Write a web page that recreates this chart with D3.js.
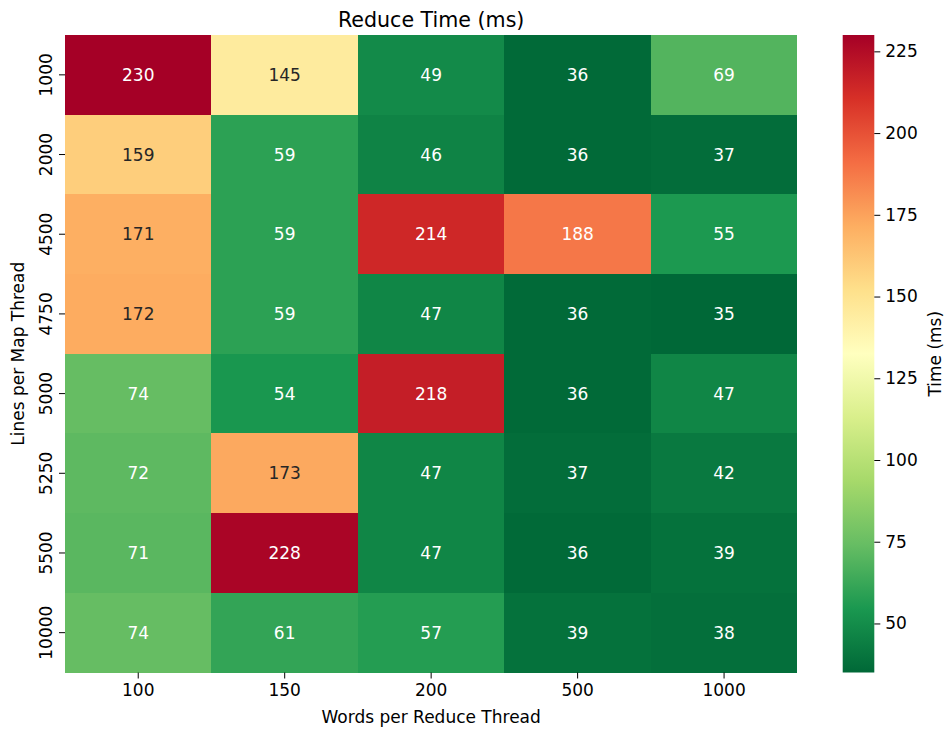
<!DOCTYPE html>
<html>
<head>
<meta charset="utf-8">
<script src="https://cdn.jsdelivr.net/npm/d3@7"></script>
<style>
  body { margin: 0; background: #fff; }
  text { font-family: "DejaVu Sans", sans-serif; }
</style>
</head>
<body>
<div id="chart"></div>
<script>
// categories
const linesPerMap = ["1000", "2000", "4500", "4750", "5000", "5250", "5500", "10000"];
const wordsPerReduce = ["100", "150", "200", "500", "1000"];

// reduce time (ms), one row per lines-per-map value
const row1000  = [230, 145, 49, 36, 69];
const row2000  = [159, 59, 46, 36, 37];
const row4500  = [171, 59, 214, 188, 55];
const row4750  = [172, 59, 47, 36, 35];
const row5000  = [74, 54, 218, 36, 47];
const row5250  = [72, 173, 47, 37, 42];
const row5500  = [71, 228, 47, 36, 39];
const row10000 = [74, 61, 57, 39, 38];
const timeRows = [row1000, row2000, row4500, row4750, row5000, row5250, row5500, row10000];

const colorbarTicks = [50, 75, 100, 125, 150, 175, 200, 225];

// RdYlGn (colorbrewer 11), reversed below
const rdylgn = ["#a50026", "#d73027", "#f46d43", "#fdae61", "#fee08b", "#ffffbf",
                "#d9ef8b", "#a6d96a", "#66bd63", "#1a9850", "#006837"];

const width = 947, height = 731;
const plotLeft = 65, plotTop = 35, plotRight = 797.3, plotBottom = 672.5;

var svg = d3.select("#chart").append("svg")
    .attr("width", width)
    .attr("height", height);

// flatten into cells
var cells = [];
timeRows.forEach(function(r, i) {
    r.forEach(function(v, j) {
        cells.push({ row: linesPerMap[i], col: wordsPerReduce[j], value: v });
    });
});

var vmin = d3.min(cells, d => d.value);
var vmax = d3.max(cells, d => d.value);

var x = d3.scaleBand().domain(wordsPerReduce).range([plotLeft, plotRight]).padding(0);
var y = d3.scaleBand().domain(linesPerMap).range([plotTop, plotBottom]).padding(0);

// reversed RdYlGn, linear in rgb like matplotlib
var stopsDomain = rdylgn.map((c, i) => vmin + (vmax - vmin) * i / (rdylgn.length - 1));
var color = d3.scaleLinear()
    .domain(stopsDomain)
    .range(rdylgn.slice().reverse())
    .interpolate(d3.interpolateRgb)
    .clamp(true);

// relative luminance, same rule seaborn uses for annotation colour
function luminance(c) {
    var rgb = d3.rgb(c);
    var lin = [rgb.r, rgb.g, rgb.b].map(function(v) {
        v = v / 255;
        return v <= 0.03928 ? v / 12.92 : Math.pow((v + 0.055) / 1.055, 2.4);
    });
    return 0.2126 * lin[0] + 0.7152 * lin[1] + 0.0722 * lin[2];
}

// cells
svg.append("g")
    .selectAll("rect")
    .data(cells)
    .enter()
    .append("rect")
    .attr("x", d => x(d.col))
    .attr("y", d => y(d.row))
    .attr("width", x.bandwidth())
    .attr("height", y.bandwidth())
    .attr("shape-rendering", "crispEdges")
    .style("fill", d => color(d.value));

// annotations
svg.append("g")
    .selectAll("text")
    .data(cells)
    .enter()
    .append("text")
    .attr("x", d => x(d.col) + x.bandwidth() / 2)
    .attr("y", d => y(d.row) + y.bandwidth() / 2)
    .attr("text-anchor", "middle")
    .attr("dominant-baseline", "central")
    .style("font-size", "17px")
    .style("fill", d => luminance(color(d.value)) > 0.408 ? "#262626" : "#ffffff")
    .text(d => d3.format(".0f")(d.value));

// x axis
var xAxis = svg.append("g")
    .attr("transform", "translate(0," + plotBottom + ")")
    .call(d3.axisBottom(x).tickSize(6).tickPadding(5));
xAxis.select(".domain").remove();
xAxis.selectAll("text").style("font-size", "17px").style("fill", "#000");

// y axis, labels rotated like seaborn
var yAxis = svg.append("g")
    .attr("transform", "translate(" + plotLeft + ",0)")
    .call(d3.axisLeft(y).tickSize(6).tickPadding(6));
yAxis.select(".domain").remove();
yAxis.selectAll("text")
    .style("font-size", "17px")
    .style("fill", "#000")
    .attr("text-anchor", "middle")
    .attr("dy", 0)
    .attr("x", 0)
    .attr("transform", "translate(-13,0) rotate(-90)");

// title
svg.append("text")
    .attr("x", (plotLeft + plotRight) / 2)
    .attr("y", 26.5)
    .attr("text-anchor", "middle")
    .style("font-size", "20.6px")
    .text("Reduce Time (ms)");

// x label
svg.append("text")
    .attr("x", (plotLeft + plotRight) / 2)
    .attr("y", 723)
    .attr("text-anchor", "middle")
    .style("font-size", "17px")
    .text("Words per Reduce Thread");

// y label
svg.append("text")
    .attr("transform", "translate(23.5," + (plotTop + plotBottom) / 2 + ") rotate(-90)")
    .attr("text-anchor", "middle")
    .style("font-size", "17px")
    .text("Lines per Map Thread");

// colorbar
var cbLeft = 842.7, cbWidth = 31.6;
var cbScale = d3.scaleLinear().domain([vmin, vmax]).range([plotBottom, plotTop]);

var grad = svg.append("defs").append("linearGradient")
    .attr("id", "cbgrad")
    .attr("x1", 0).attr("y1", 1).attr("x2", 0).attr("y2", 0);
grad.selectAll("stop")
    .data(stopsDomain)
    .enter()
    .append("stop")
    .attr("offset", d => (d - vmin) / (vmax - vmin))
    .attr("stop-color", d => color(d));

svg.append("rect")
    .attr("x", cbLeft)
    .attr("y", plotTop)
    .attr("width", cbWidth)
    .attr("height", plotBottom - plotTop)
    .style("fill", "url(#cbgrad)");

var cbAxis = svg.append("g")
    .attr("transform", "translate(" + (cbLeft + cbWidth) + ",0)")
    .call(d3.axisRight(cbScale).tickValues(colorbarTicks).tickSize(6).tickPadding(5));
cbAxis.select(".domain").remove();
cbAxis.selectAll("text").style("font-size", "17px").style("fill", "#000");

svg.append("text")
    .attr("transform", "translate(940.5," + (plotTop + plotBottom) / 2 + ") rotate(-90)")
    .attr("text-anchor", "middle")
    .style("font-size", "17px")
    .text("Time (ms)");
</script>
</body>
</html>
